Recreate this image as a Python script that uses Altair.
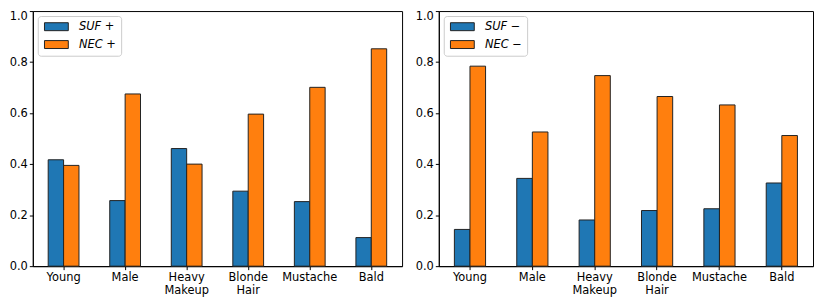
import altair as alt
import pandas as pd

categories = ["Young", "Male", "Heavy Makeup", "Blonde Hair", "Mustache", "Bald"]
suf_pos = [0.417, 0.257, 0.461, 0.294, 0.253, 0.112]
nec_pos = [0.395, 0.675, 0.400, 0.596, 0.701, 0.852]
suf_neg = [0.144, 0.344, 0.181, 0.218, 0.225, 0.326]
nec_neg = [0.784, 0.526, 0.747, 0.665, 0.632, 0.512]
labels_pos = ["SUF +", "NEC +"]
labels_neg = ["SUF \u2212", "NEC \u2212"]
colors = ["#1f77b4", "#ff7f0e"]
y_ticks = [0.0, 0.2, 0.4, 0.6, 0.8, 1.0]

FONT = "DejaVu Sans"


def panel(suf, nec, labels, width):
    df = pd.DataFrame({
        "cat": categories * 2,
        "series": [labels[0]] * len(categories) + [labels[1]] * len(categories),
        "val": suf + nec,
    })
    return alt.Chart(df).mark_bar(stroke="#222222", strokeWidth=1).encode(
        x=alt.X("cat:N", sort=categories,
                scale=alt.Scale(paddingInner=0.5, paddingOuter=0.25),
                axis=alt.Axis(title=None, labelAngle=0, labelExpr="split(datum.label, ' ')",
                              labelFont=FONT, labelFontSize=11.5, labelColor="black",
                              tickColor="black", tickSize=3.5, domainColor="black",
                              labelPadding=2, labelLineHeight=13)),
        xOffset=alt.XOffset("series:N", sort=labels,
                            scale=alt.Scale(domain=labels, paddingInner=0, paddingOuter=0)),
        y=alt.Y("val:Q", scale=alt.Scale(domain=[0, 1], nice=False),
                axis=alt.Axis(title=None, values=y_ticks, format=".1f", grid=False,
                              labelFont=FONT, labelFontSize=11.5, labelColor="black",
                              tickColor="black", tickSize=3.5, domainColor="black",
                              labelPadding=2,
                              labelBaseline={"condition": {"test": "datum.value >= 1", "value": "top"},
                                             "value": "middle"})),
        color=alt.Color("series:N", sort=labels,
                        scale=alt.Scale(domain=labels, range=colors),
                        legend=alt.Legend(title=None, orient="top-left", offset=5,
                                          labelFont=FONT, labelFontSize=11.5,
                                          labelFontStyle="italic", labelColor="black",
                                          labelExpr="datum.label + '\u00a0'",
                                          symbolType="M-1,-1H5V1H-1Z", symbolSize=64,
                                          symbolStrokeColor="#222222", symbolStrokeWidth=1,
                                          symbolOpacity=1,
                                          labelOffset=25, rowPadding=5,
                                          padding=5, strokeColor="#cccccc",
                                          fillColor="white", cornerRadius=3)),
    ).properties(width=width, height=257)


left = panel(suf_pos, nec_pos, labels_pos, 372)
right = panel(suf_neg, nec_neg, labels_neg, 377)

chart = alt.hconcat(left, right, spacing=37, bounds="flush").resolve_scale(
    color="independent", xOffset="independent"
).properties(
    padding={"left": 0, "top": 1, "right": 0, "bottom": 0},
).configure_view(stroke="black", strokeWidth=1)

chart.save("out.html", embed_options={"renderer": "svg", "actions": False})
